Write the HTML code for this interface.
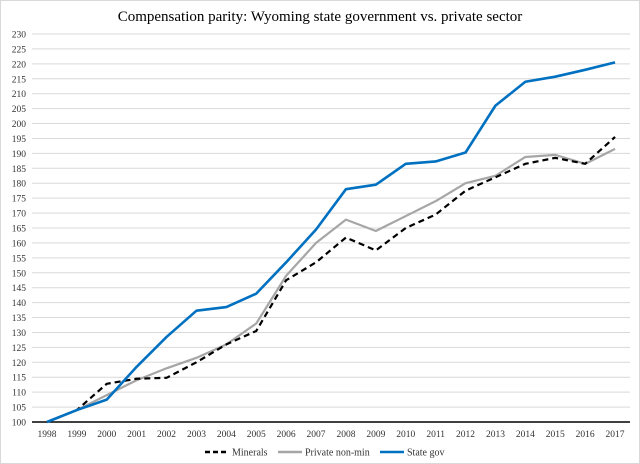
<!DOCTYPE html>
<html><head><meta charset="utf-8"><style>
body{margin:0;background:#fff;}
svg{display:block;font-family:"Liberation Serif",serif;}
</style></head><body>
<svg id="chart" width="640" height="464">
<rect x="0.5" y="0.5" width="639" height="463" fill="#fff" stroke="#d9d9d9"/>
<text x="320" y="21" text-anchor="middle" font-size="15" fill="#000">Compensation parity: Wyoming state government vs. private sector</text>
<g id="grid"></g><g id="series"></g><g id="legend"></g>
</svg>
<script>
const years=['1998','1999','2000','2001','2002','2003','2004','2005','2006','2007','2008','2009','2010','2011','2012','2013','2014','2015','2016','2017'];
const minerals=[100,104,112.8,114.5,114.8,120,126,130.5,147.5,153.5,161.8,157.5,165,169.5,177.5,182,186.5,188.5,186.5,195.5];
const privateNonMin=[100,104,109,114,118,121.5,126,133,149,160,167.8,164,169,174,180,182.5,188.8,189.5,186.5,191.5];
const stateGov=[100,104,107.5,118.5,128.5,137.3,138.5,143,153.5,164.5,178,179.5,186.5,187.3,190.3,206,214,215.7,218,220.5];
const yTicks=[100,105,110,115,120,125,130,135,140,145,150,155,160,165,170,175,180,185,190,195,200,205,210,215,220,225,230];
const NS='http://www.w3.org/2000/svg';
const x0=32,x1=630,yB=422,yT=34,yMin=100,yMax=230;
const band=(x1-x0)/years.length;
const xs=i=>x0+band*(i+0.5);
const ys=v=>yB-(v-yMin)/(yMax-yMin)*(yB-yT);
function mk(t,a,p){const e=document.createElementNS(NS,t);for(const k in a)e.setAttribute(k,a[k]);p.appendChild(e);return e;}
const grid=document.getElementById('grid');
yTicks.forEach(v=>{
  const l=mk('line',{x1:x0,x2:x1,y1:ys(v),y2:ys(v),stroke:v===100?'#000':'#d9d9d9','stroke-width':v===100?1.5:1},grid);
  
  
  const t=mk('text',{x:26,y:ys(v)+3.5,'text-anchor':'end','font-size':'9.5',fill:'#333'},grid);
  t.textContent=v;
  
  
});
years.forEach((y,i)=>{
  const t=mk('text',{x:xs(i),y:ys(100)+15,'text-anchor':'middle','font-size':'9.5',fill:'#333'},grid);
  t.textContent=y;
  
  
});
const ser=document.getElementById('series');
const defs=[[privateNonMin,'#a6a6a6',2.2,null,'series-private-non-min'],[minerals,'#000',2.2,'6,4','series-minerals'],[stateGov,'#0070c0',2.6,null,'series-state-gov']];
defs.forEach(([d,c,w,da,n])=>{
  const p=mk('polyline',{points:d.map((v,i)=>xs(i)+','+ys(v)).join(' '),fill:'none',stroke:c,'stroke-width':w,'stroke-linejoin':'round'},ser);
  if(da)p.setAttribute('stroke-dasharray',da);
  
  
});
const leg=document.getElementById('legend');
const items=[['Minerals','#000','6,4',205],['Private non-min','#a6a6a6',null,278],['State gov','#0070c0',null,380]];
items.forEach(([lab,c,da,x])=>{
  const l=mk('line',{x1:x,x2:x+24,y1:452,y2:452,stroke:c,'stroke-width':2.5},leg);
  if(da)l.setAttribute('stroke-dasharray','5,3');
  
  
  const t=mk('text',{x:x+27,y:455.5,'font-size':'10',fill:'#333'},leg);
  t.textContent=lab;
  
  
});
</script>
</body></html>
